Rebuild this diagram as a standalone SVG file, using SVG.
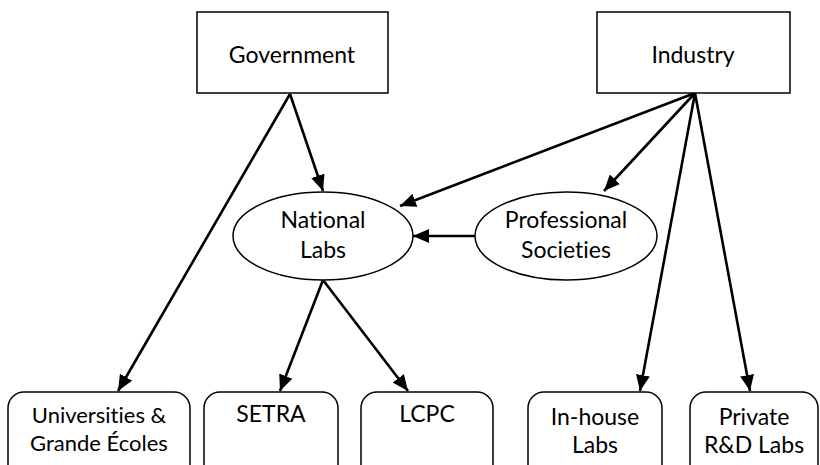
<svg xmlns="http://www.w3.org/2000/svg" width="820" height="465" viewBox="0 0 820 465">
<style>
.box{fill:#fff;stroke:#000;stroke-width:1.5}
.t{font-family:Lato,"Liberation Sans",sans-serif;font-size:23px;fill:#000;text-anchor:middle;font-variant-ligatures:none}
.s{font-size:22px}
.c{stroke:#000;stroke-width:2.6;fill:none;marker-end:url(#ah)}
</style>
<defs>
<marker id="ah" markerUnits="userSpaceOnUse" markerWidth="16" markerHeight="14" viewBox="0 0 16 14" refX="16" refY="7" orient="auto">
<path d="M0,0 L16,7 L0,14 Z" fill="#000"/>
</marker>
</defs>
<rect width="820" height="465" fill="#fff"/>
<g id="connectors">
<line class="c" x1="290" y1="94" x2="118" y2="391"/>
<line class="c" x1="290" y1="94" x2="323" y2="191"/>
<line class="c" x1="695" y1="93" x2="400" y2="206"/>
<line class="c" x1="695" y1="93" x2="604" y2="191"/>
<line class="c" x1="695" y1="93" x2="640" y2="391"/>
<line class="c" x1="695" y1="93" x2="750" y2="391"/>
<line class="c" x1="475" y1="236" x2="413" y2="236"/>
<line class="c" x1="323" y1="280" x2="280" y2="391"/>
<line class="c" x1="323" y1="280" x2="408" y2="391"/>
</g>
<g id="government"><rect class="box" x="197" y="12" width="191" height="81"/><text class="t" x="292" y="63">Government</text></g>
<g id="industry"><rect class="box" x="597" y="12" width="193" height="81"/><text class="t" x="693" y="63">Industry</text></g>
<g id="national-labs"><ellipse class="box" cx="323" cy="236" rx="90" ry="44"/><text class="t" x="323" y="228">National</text><text class="t" x="323" y="258">Labs</text></g>
<g id="professional-societies"><ellipse class="box" cx="566" cy="236" rx="91" ry="44"/><text class="t" x="566" y="228">Professional</text><text class="t" x="566" y="258">Societies</text></g>
<g id="universities"><rect class="box" x="8" y="392" width="182" height="100" rx="16"/><text class="t s" x="99" y="423">Universities &amp;</text><text class="t s" x="99" y="451">Grande Écoles</text></g>
<g id="setra"><rect class="box" x="204" y="392" width="134" height="100" rx="16"/><text class="t" x="271" y="422">SETRA</text></g>
<g id="lcpc"><rect class="box" x="361" y="392" width="132" height="100" rx="16"/><text class="t" x="427" y="422">LCPC</text></g>
<g id="in-house-labs"><rect class="box" x="528" y="392" width="134" height="100" rx="16"/><text class="t" x="595" y="425">In-house</text><text class="t" x="595" y="453">Labs</text></g>
<g id="private-labs"><rect class="box" x="690" y="392" width="128" height="100" rx="16"/><text class="t" x="754" y="425">Private</text><text class="t" x="754" y="453">R&amp;D Labs</text></g>
</svg>
